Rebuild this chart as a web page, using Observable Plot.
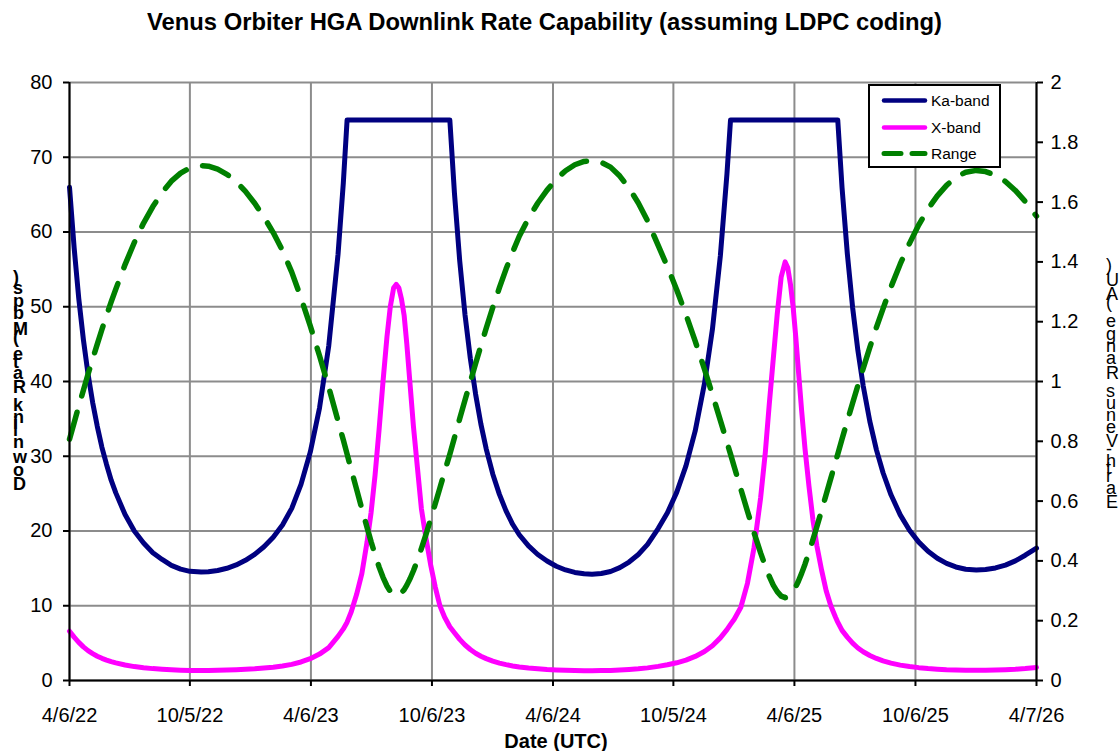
<!DOCTYPE html>
<html>
<head>
<meta charset="utf-8">
<script src="https://cdn.jsdelivr.net/npm/d3@7"></script>
<script src="https://cdn.jsdelivr.net/npm/@observablehq/plot@0.6"></script>
<style>
  html, body { margin: 0; padding: 0; background: #fff; }
  #chart { width: 1120px; height: 751px; }
</style>
</head>
<body>
<div id="chart"></div>
<script>
// ---------- text ----------
const title = "Venus Orbiter HGA Downlink Rate Capability (assuming LDPC coding)";
const yLabel = "Downlink Rate (Mbps)";
const y2Label = "Earth-Venus Range (AU)";
const xLabel = "Date (UTC)";
const seriesNames = ["Ka-band", "X-band", "Range"];

// ---------- axes ----------
const startDate = "2022-04-06";
const endDate = "2026-04-07";
const xTickDates = ["2022-04-06", "2022-10-05", "2023-04-06", "2023-10-06", "2024-04-06",
                    "2024-10-05", "2025-04-06", "2025-10-06", "2026-04-07"];
const xTickLabels = ["4/6/22", "10/5/22", "4/6/23", "10/6/23", "4/6/24",
                     "10/5/24", "4/6/25", "10/6/25", "4/7/26"];
const leftTicks = [0, 10, 20, 30, 40, 50, 60, 70, 80];
const rightTicksAU = [0, 0.2, 0.4, 0.6, 0.8, 1, 1.2, 1.4, 1.6, 1.8, 2];
const rightTickLabels = ["0", "0.2", "0.4", "0.6", "0.8", "1", "1.2", "1.4", "1.6", "1.8", "2"];

// ---------- data (days since 4/6/22) ----------
const days = [
  0, 7, 14, 21, 28, 35, 42, 49, 56, 63, 70, 84, 98, 112, 126, 140, 154, 168, 182, 199,
  210, 224, 238, 252, 266, 280, 294, 308, 322, 336, 350, 364, 378, 392, 406, 414, 419.7,
  426, 434, 442, 450, 456, 462, 468, 474, 480, 485, 490, 494,
  498, 502, 506, 510, 515, 520, 526, 532, 539, 546, 553, 560, 567, 575,
  582, 590, 598, 606, 614, 622, 630, 640, 650, 660, 670, 680, 694, 708, 722, 736, 750, 764, 778, 790,
  804, 818, 832, 846, 860, 874, 890, 904, 918, 932, 946, 960, 972, 984, 994, 999.4,
  1005, 1015, 1025, 1035, 1045, 1052, 1058, 1064, 1070, 1076, 1082,
  1086, 1090, 1094, 1098, 1102, 1107, 1112, 1118, 1124, 1130, 1137, 1144, 1151, 1158, 1161.5,
  1168, 1176, 1184, 1192, 1200, 1210, 1220, 1230, 1242, 1256, 1270, 1284, 1298, 1312, 1326, 1340, 1355, 1371,
  1385, 1400, 1415, 1430, 1445, 1462
];
const kaBand = [
  66.0, 57.9, 51.1, 45.6, 41.0, 37.2, 34.0, 31.2, 28.9, 26.8, 25.1, 22.2, 20.0, 18.4, 17.1, 16.2, 15.4, 14.9, 14.6, 14.5,
  14.54, 14.71, 15.01, 15.46, 16.08, 16.88, 17.90, 19.17, 20.80, 23.03, 26.24, 30.55, 36.46, 44.80, 57.02, 66.58, 75,
  75, 75, 75, 75, 75, 75, 75, 75, 75, 75, 75, 75,
  75, 75, 75, 75, 75, 75, 75, 75, 75, 75, 75, 75, 75, 75,
  65.2, 56.1, 48.9, 43.1, 38.3, 34.3, 31.0, 27.6, 24.9, 22.7, 20.9, 19.5, 18.0, 16.86, 15.98, 15.29, 14.79, 14.46, 14.27, 14.22,
  14.31, 14.59, 15.10, 15.85, 16.85, 18.21, 20.32, 22.44, 25.17, 28.71, 33.39, 39.72, 46.97, 56.78, 67.78, 75,
  75, 75, 75, 75, 75, 75, 75, 75, 75, 75, 75,
  75, 75, 75, 75, 75, 75, 75, 75, 75, 75, 75, 75, 75, 75, 75,
  65.93, 57.09, 49.89, 44.12, 39.42, 34.66, 30.86, 27.79, 24.84, 22.16, 20.11, 18.51, 17.29, 16.36, 15.67, 15.19, 14.89, 14.78,
  14.84, 15.06, 15.44, 16.00, 16.76, 17.7
];
const xBand = [
  6.6, 5.8, 5.1, 4.5, 4.0, 3.6, 3.25, 2.97, 2.73, 2.52, 2.35, 2.07, 1.86, 1.71, 1.59, 1.50, 1.43, 1.38, 1.35, 1.34,
  1.35, 1.36, 1.39, 1.43, 1.49, 1.56, 1.66, 1.78, 1.94, 2.16, 2.48, 2.92, 3.53, 4.40, 5.90, 6.90, 7.8,
  9.2, 11.5, 14.3, 18.6, 22.5, 27.5, 33.5, 40, 46, 50, 52.5, 53,
  52.5, 51, 48.8, 45, 39.5, 34, 28.5, 23, 19, 15.5, 12.5, 10, 8.5, 7.2,
  6.4, 5.5, 4.75, 4.15, 3.65, 3.25, 2.93, 2.60, 2.33, 2.12, 1.95, 1.81, 1.67, 1.57, 1.48, 1.42, 1.37, 1.34, 1.32, 1.32,
  1.33, 1.35, 1.40, 1.47, 1.56, 1.69, 1.89, 2.10, 2.37, 2.73, 3.22, 3.88, 4.65, 5.70, 6.80, 7.5,
  8.2, 9.8, 13.0, 17.8, 24.5, 30.5, 37, 43, 49, 54, 56,
  55.2, 53, 50, 46, 41.5, 36, 31, 26, 21.5, 18, 14.8, 12, 10, 8.5, 7.8,
  6.7, 5.8, 5.0, 4.35, 3.85, 3.35, 2.95, 2.63, 2.33, 2.06, 1.87, 1.72, 1.60, 1.52, 1.45, 1.41, 1.38, 1.37,
  1.38, 1.40, 1.44, 1.50, 1.60, 1.75
];
const rangeAU = [
  0.807, 0.862, 0.918, 0.971, 1.024, 1.075, 1.125, 1.174, 1.221, 1.266, 1.309, 1.391, 1.465, 1.530, 1.585, 1.632, 1.670, 1.697, 1.714, 1.722,
  1.720, 1.710, 1.693, 1.668, 1.636, 1.596, 1.550, 1.498, 1.438, 1.366, 1.280, 1.186, 1.086, 0.980, 0.868, 0.804, 0.757,
  0.705, 0.640, 0.574, 0.511, 0.464, 0.421, 0.380, 0.345, 0.316, 0.298, 0.287, 0.285,
  0.287, 0.294, 0.304, 0.319, 0.341, 0.367, 0.402, 0.441, 0.489, 0.540, 0.591, 0.644, 0.697, 0.757,
  0.812, 0.876, 0.938, 0.999, 1.060, 1.120, 1.178, 1.248, 1.314, 1.376, 1.433, 1.486, 1.546, 1.597, 1.640, 1.677, 1.705, 1.725, 1.736, 1.739,
  1.733, 1.717, 1.687, 1.647, 1.597, 1.537, 1.455, 1.384, 1.307, 1.224, 1.135, 1.041, 0.957, 0.870, 0.797, 0.757,
  0.715, 0.640, 0.566, 0.494, 0.426, 0.382, 0.348, 0.319, 0.297, 0.282, 0.277,
  0.280, 0.287, 0.298, 0.313, 0.332, 0.359, 0.389, 0.429, 0.471, 0.515, 0.568, 0.622, 0.676, 0.730, 0.757,
  0.808, 0.868, 0.928, 0.987, 1.044, 1.114, 1.181, 1.244, 1.316, 1.393, 1.462, 1.524, 1.577, 1.621, 1.656, 1.683, 1.700, 1.706,
  1.702, 1.690, 1.669, 1.639, 1.602, 1.553
];

// ---------- build ----------
const AU_TO_LEFT = 40; // right axis 0..2 AU maps onto left axis 0..80
const t0 = new Date(startDate + "T00:00:00Z");
const t1 = new Date(endDate + "T00:00:00Z");
const rows = days.map((d, i) => ({
  date: new Date(t0.getTime() + d * 864e5),
  ka: kaBand[i], xb: xBand[i], rng: rangeAU[i]
}));
const tickDates = xTickDates.map(s => new Date(s + "T00:00:00Z"));
const labelByTime = new Map(tickDates.map((d, i) => [+d, xTickLabels[i]]));
const rightVals = rightTicksAU.map(v => v * AU_TO_LEFT);
const rightLabelByVal = new Map(rightVals.map((v, i) => [Math.round(v * 1000), rightTickLabels[i]]));

const colors = { ka: "#000080", xb: "#ff00ff", rng: "#008000" };
const gridColor = "#8c8c8c";
const font = "'Liberation Sans', Arial, Helvetica, sans-serif";

const chart = Plot.plot({
  width: 1120,
  height: 751,
  marginLeft: 69,
  marginRight: 84,
  marginTop: 82,
  marginBottom: 71,
  style: { fontFamily: font, fontSize: "20px", color: "#000", background: "#fff", overflow: "visible" },
  x: { type: "utc", domain: [t0, t1] },
  y: { domain: [0, 80] },
  marks: [
    Plot.gridY(leftTicks, { stroke: gridColor, strokeWidth: 2, strokeOpacity: 1 }),
    Plot.gridX(tickDates, { stroke: gridColor, strokeWidth: 2, strokeOpacity: 1 }),
    Plot.line(rows, { x: "date", y: "ka", stroke: colors.ka, strokeWidth: 5 }),
    Plot.line(rows, { x: "date", y: "xb", stroke: colors.xb, strokeWidth: 5 }),
    Plot.line(rows, { x: "date", y: d => d.rng * AU_TO_LEFT, stroke: colors.rng, strokeWidth: 5.5,
                      strokeDasharray: "28,17", strokeLinecap: "round" }),
    Plot.ruleY([0], { stroke: "#000", strokeWidth: 2 }),
    Plot.ruleX([t0], { stroke: "#000", strokeWidth: 2 }),
    Plot.ruleX([t1], { stroke: "#000", strokeWidth: 2 }),
    Plot.axisY(leftTicks, { anchor: "left", tickSize: 6, tickPadding: 11, strokeWidth: 2, label: null }),
    Plot.axisY(rightVals, { anchor: "right", tickSize: 6, tickPadding: 8, strokeWidth: 2, label: null,
                            tickFormat: v => rightLabelByVal.get(Math.round(v * 1000)) }),
    Plot.axisX(tickDates, { anchor: "bottom", tickSize: 6, tickPadding: 21, strokeWidth: 2, label: null,
                            tickFormat: d => labelByTime.get(+d) })
  ]
});
document.getElementById("chart").appendChild(chart);

const svg = d3.select(chart);

// title
svg.append("text")
  .attr("x", 544.5).attr("y", 30)
  .attr("text-anchor", "middle")
  .attr("font-family", font).attr("font-weight", "bold").attr("font-size", 24)
  .attr("textLength", 795).attr("lengthAdjust", "spacingAndGlyphs")
  .attr("fill", "#000")
  .text(title);

// x label
svg.append("text")
  .attr("x", 556).attr("y", 748)
  .attr("text-anchor", "middle")
  .attr("font-family", font).attr("font-weight", "bold").attr("font-size", 20)
  .attr("fill", "#000")
  .text(xLabel);

// stacked vertical labels: text rotated -90deg with each glyph turned back upright
function stackedLabel(label, left, top, bottom, weight, size) {
  const g = svg.append("g");
  const n = Array.from(label).length;
  const t = g.append("text")
    .attr("x", 0).attr("y", 0)
    .attr("text-anchor", "start")
    .attr("font-family", font).attr("font-weight", weight).attr("font-size", size)
    .attr("fill", "#000")
    .attr("rotate", 90)
    .attr("transform", "rotate(-90)")
    .text(label);
  let bb = g.node().getBBox();
  const ls = ((bottom - top) - bb.height) / (n - 1);
  t.attr("letter-spacing", ls);
  bb = g.node().getBBox();
  g.attr("transform", `translate(${left - bb.x},${top - bb.y})`);
}
stackedLabel(yLabel, 12, 267, 494, "bold", 18);
stackedLabel(y2Label, 1106, 255, 512, "normal", 18);

// legend
const lg = svg.append("g").attr("font-family", font).attr("font-size", 15.5).attr("text-anchor", "start");
lg.append("rect").attr("x", 869).attr("y", 85).attr("width", 131).attr("height", 82)
  .attr("fill", "#fff").attr("stroke", "#000").attr("stroke-width", 2);
const legendItems = [
  { name: seriesNames[0], color: colors.ka, y: 100.5, dash: null, w: 4.5 },
  { name: seriesNames[1], color: colors.xb, y: 127.5, dash: null, w: 4.5 },
  { name: seriesNames[2], color: colors.rng, y: 153.5, dash: "17,11", w: 5 }
];
legendItems.forEach(it => {
  const l = lg.append("line").attr("x1", 884).attr("x2", 925).attr("y1", it.y).attr("y2", it.y)
    .attr("stroke", it.color).attr("stroke-width", it.w).attr("stroke-linecap", "round");
  if (it.dash) l.attr("stroke-dasharray", it.dash);
  lg.append("text").attr("x", 931).attr("y", it.y).attr("dominant-baseline", "central")
    .attr("text-anchor", "start").attr("fill", "#000").text(it.name);
});
</script>
</body>
</html>
